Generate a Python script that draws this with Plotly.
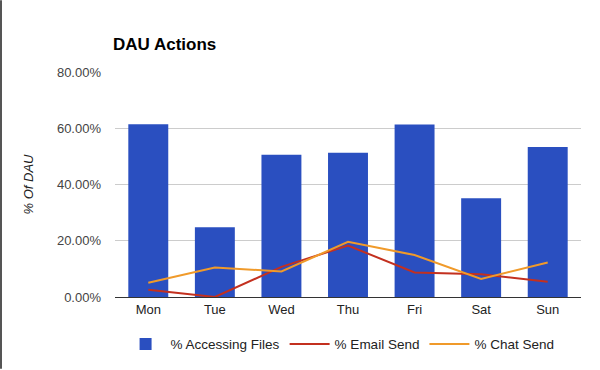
import plotly.graph_objects as go

days = ["Mon", "Tue", "Wed", "Thu", "Fri", "Sat", "Sun"]
accessing_files = [61.4, 24.8, 50.6, 51.3, 61.3, 35.1, 53.3]
email_send = [2.6, 0.0, 10.7, 18.3, 8.7, 8.1, 5.4]
chat_send = [5.1, 10.5, 9.1, 19.6, 14.9, 6.4, 12.3]
y_ticks = [0, 20, 40, 60, 80]
y_tick_labels = ["0.00%", "20.00%", "40.00%", "60.00%", "80.00%"]

fig = go.Figure()
fig.add_trace(go.Bar(x=days, y=accessing_files, name="% Accessing Files",
                     marker=dict(color="#2a4fc0", line=dict(width=0)), width=0.6))
fig.add_trace(go.Scatter(x=days, y=email_send, name="% Email Send", mode="lines",
                         line=dict(color="#c3301f", width=2)))
fig.add_trace(go.Scatter(x=days, y=chat_send, name="% Chat Send", mode="lines",
                         line=dict(color="#f09a2a", width=2)))

fig.update_layout(
    width=600, height=370,
    margin=dict(l=115, r=19, t=72, b=72),
    paper_bgcolor="white", plot_bgcolor="white",
    font=dict(family="Liberation Sans, Arial, sans-serif", size=13, color="#444444"),
    title=dict(text="<b>DAU Actions</b>", x=113/600, xanchor="left", xref="container",
               y=1-44/370, yanchor="middle", yref="container",
               font=dict(size=17, color="#000000")),
    showlegend=True,
    legend=dict(orientation="h", x=0.483, xanchor="center", y=-0.204, yanchor="middle",
                font=dict(size=13.5, color="#222222"), traceorder="normal",
                itemwidth=40),
    bargap=0.4,
)
fig.update_xaxes(showgrid=False, showline=True, linecolor="#333333", linewidth=1,
                 ticks="", tickfont=dict(size=13, color="#222222"))
fig.update_yaxes(range=[0, 80], tickvals=y_ticks, ticktext=y_tick_labels,
                 showgrid=True, gridcolor="#cccccc", gridwidth=1, zeroline=False,
                 showline=False, ticks="", ticklabelstandoff=13,
                 tickfont=dict(size=13, color="#444444"),
                 title=dict(text="<i>% Of DAU</i>", standoff=20,
                            font=dict(size=13, color="#222222")))

fig.add_shape(type="line", xref="paper", yref="paper",
              x0=(1-115)/466, x1=(1-115)/466, y0=-72/226, y1=1+72/226,
              line=dict(color="#555555", width=2))

fig.write_html("out.html", config={"displayModeBar": False},
               post_script="document.body.style.margin='0';")
